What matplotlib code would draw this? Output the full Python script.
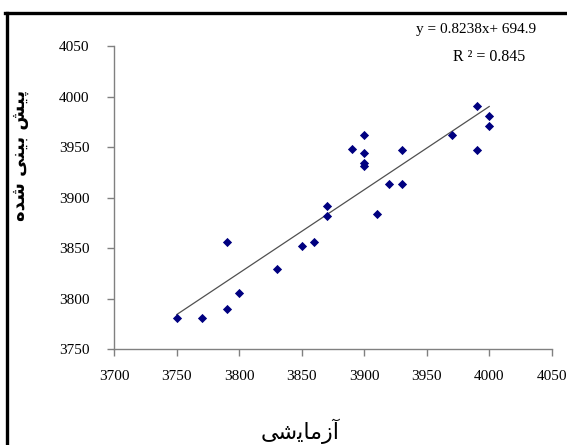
import matplotlib.pyplot as plt
from matplotlib.lines import Line2D

# measured vs predicted
x_exp = [3750, 3770, 3790, 3790, 3800, 3830, 3850, 3860, 3870, 3870, 3890, 3900,
         3900, 3900, 3900, 3910, 3920, 3930, 3930, 3970, 3990, 3990, 4000, 4000]
y_pred = [3781, 3781, 3790, 3856, 3805, 3829, 3852, 3856, 3892, 3882, 3948, 3962,
          3944, 3934, 3931, 3884, 3913, 3913, 3947, 3962, 3991, 3947, 3981, 3971]
slope = 0.8238
intercept = 694.9
eq_text = 'y = 0.8238x+ 694.9'
r2_text = 'R ² = 0.845'
x_ticks = [3700, 3750, 3800, 3850, 3900, 3950, 4000, 4050]
y_ticks = [3750, 3800, 3850, 3900, 3950, 4000, 4050]

# Persian labels written in presentation forms (visual order), matplotlib does no shaping
xlabel = '\ufbfd\ufeb7\ufbfe\ufe8e\ufee3\ufeaf\ufe81'          # آزمایشی
ylabel = '\ufee9\ufeaa\ufeb7 \ufbfd\ufee8\ufbff\ufe91 \ufeb6\ufbff\ufb58'  # پیش بینی شده

plt.rcParams['font.family'] = ['Liberation Serif', 'DejaVu Sans']

fig = plt.figure(figsize=(5.67, 4.45), dpi=100)
ax = fig.add_axes([0.2016, 0.2157, 0.7714, 0.6809])

ax.scatter(x_exp, y_pred, marker='D', s=22, c='#000080', linewidths=0, zorder=3)
lx = [min(x_exp), max(x_exp)]
ax.plot(lx, [slope * v + intercept for v in lx], color='#505050', lw=0.9, zorder=2)

ax.set_xlim(3700, 4050)
ax.set_ylim(3750, 4050)
ax.set_xticks(x_ticks)
ax.set_yticks(y_ticks)
for s in ['top', 'right']:
    ax.spines[s].set_visible(False)
for s in ['left', 'bottom']:
    ax.spines[s].set_color('#808080')
    ax.spines[s].set_linewidth(1.0)
ax.tick_params(axis='both', direction='out', length=5, color='#808080',
               labelsize=11, width=1.0)
ax.tick_params(axis='y', pad=13)
ax.tick_params(axis='x', pad=10)

fig.text(476 / 567, 1 - 30 / 445, eq_text, ha='center', va='center', fontsize=11)
fig.text(489 / 567, 1 - 57 / 445, r2_text, ha='center', va='center', fontsize=11.5)

fig.text(300 / 567, 1 - 431 / 445, xlabel, ha='center', va='center',
         fontsize=16, family=['DejaVu Sans'])
fig.text(20 / 567, 1 - 155 / 445, ylabel, ha='center', va='center', rotation=90,
         fontsize=13, fontweight='bold', family=['DejaVu Sans'])

# frame edges seen on the left and top of the picture
fig.add_artist(Line2D([6.5 / 567, 6.5 / 567], [0, 1 - 12.5 / 445], color='black', lw=2.4))
fig.add_artist(Line2D([5.3 / 567, 1], [1 - 12.5 / 445, 1 - 12.5 / 445], color='black', lw=2.4))

fig.savefig('out.png', dpi=100)
